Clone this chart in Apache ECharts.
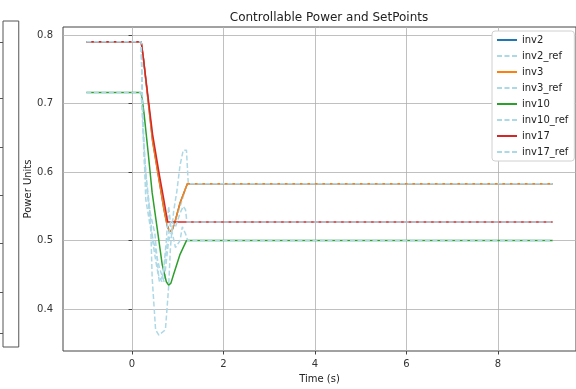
<!DOCTYPE html>
<html>
<head>
<meta charset="utf-8">
<script src="https://cdn.jsdelivr.net/npm/echarts@6/dist/echarts.min.js"></script>
<style>
  html, body { margin: 0; padding: 0; background: #fff; }
  #chart { width: 576px; height: 389px; }
</style>
</head>
<body>
<div id="chart"></div>
<script>
// time (s) and power values
const inv2T = [-1, 0.2, 0.25, 0.3, 0.45, 0.6, 0.7, 0.77, 0.82, 0.88, 0.95, 1.05, 1.21, 9.2];
const inv2V = [0.79, 0.79, 0.765, 0.735, 0.645, 0.585, 0.545, 0.522, 0.513, 0.516, 0.53, 0.555, 0.583, 0.583];
const inv3T = [-1, 0.2, 0.25, 0.3, 0.45, 0.6, 0.7, 0.77, 0.82, 0.88, 0.95, 1.05, 1.21, 9.2];
const inv3V = [0.79, 0.79, 0.765, 0.735, 0.645, 0.585, 0.545, 0.522, 0.513, 0.516, 0.53, 0.555, 0.583, 0.583];
const inv10T = [-1, 0.2, 0.26, 0.35, 0.44, 0.55, 0.66, 0.75, 0.8, 0.85, 0.91, 1.05, 1.19, 9.2];
const inv10V = [0.716, 0.716, 0.687, 0.63, 0.57, 0.518, 0.465, 0.44, 0.435, 0.438, 0.451, 0.48, 0.5, 0.5];
const inv17T = [-1, 0.2, 0.25, 0.3, 0.45, 0.6, 0.69, 0.78, 9.2];
const inv17V = [0.79, 0.79, 0.765, 0.737, 0.655, 0.595, 0.562, 0.527, 0.527];

const inv2RefT = [-1, 0.2, 0.23, 0.27, 0.3, 0.4, 0.5, 0.6, 0.7, 0.75, 0.8, 0.9, 1.0, 1.1, 1.2, 9.2];
const inv2RefV = [0.79, 0.79, 0.7, 0.62, 0.56, 0.52, 0.49, 0.46, 0.44, 0.47, 0.5, 0.52, 0.54, 0.56, 0.583, 0.583];
const inv3RefT = [-1, 0.2, 0.24, 0.28, 0.35, 0.41, 0.44, 0.515, 0.586, 0.73, 0.8, 0.84, 0.91, 0.98, 1.05, 1.12, 1.19, 1.23, 9.2];
const inv3RefV = [0.79, 0.79, 0.66, 0.6, 0.56, 0.518, 0.446, 0.37, 0.362, 0.37, 0.432, 0.49, 0.543, 0.572, 0.61, 0.632, 0.632, 0.583, 0.583];
const inv10RefT = [-1, 0.2, 0.24, 0.3, 0.38, 0.45, 0.52, 0.6, 0.68, 0.75, 0.8, 0.85, 0.95, 1.05, 1.1, 1.17, 1.22, 9.2];
const inv10RefV = [0.716, 0.716, 0.66, 0.6, 0.55, 0.5, 0.47, 0.44, 0.45, 0.5, 0.55, 0.52, 0.49, 0.5, 0.52, 0.51, 0.5, 0.5];
const inv17RefT = [-1, 0.2, 0.22, 0.26, 0.32, 0.4, 0.5, 0.58, 0.65, 0.72, 0.78, 0.85, 0.95, 1.05, 1.12, 1.17, 1.2, 9.2];
const inv17RefV = [0.79, 0.79, 0.72, 0.64, 0.58, 0.54, 0.51, 0.45, 0.44, 0.47, 0.5, 0.53, 0.52, 0.54, 0.55, 0.545, 0.527, 0.527];

const xTicks = [0, 2, 4, 6, 8];
const yTicks = [0.4, 0.5, 0.6, 0.7, 0.8];
// edge of the neighbouring panel on the left
const leftPanelTicks = [21, 77, 126, 174, 222, 271, 312];

const font = 'DejaVu Sans';

function pairs(t, v) {
  return t.map((x, i) => [x, v[i]]);
}

function solid(name, t, v, color) {
  return {
    name: name,
    type: 'line',
    data: pairs(t, v),
    symbol: 'none',
    lineStyle: { color: color, width: 1.5 },
    itemStyle: { color: color },
  };
}

function ref(name, t, v) {
  return {
    name: name,
    type: 'line',
    data: pairs(t, v),
    symbol: 'none',
    lineStyle: { color: '#add8e6', width: 1.5, type: [5, 2.5] },
    itemStyle: { color: '#add8e6' },
  };
}

let chart = echarts.init(document.getElementById('chart'));

let option = {
  animation: false,
  textStyle: { fontFamily: font },
  title: {
    text: 'Controllable Power and SetPoints',
    left: 324,
    top: 7,
    textAlign: 'center',
    textStyle: { fontFamily: font, fontSize: 12, fontWeight: 'normal', color: '#222' },
  },
  legend: {
    orient: 'vertical',
    left: 492,
    top: 31,
    padding: [4, 6, 4, 4],
    itemWidth: 20,
    itemHeight: 10,
    itemGap: 6,
    itemStyle: { opacity: 0, borderWidth: 0 }, // line only, no marker
    backgroundColor: '#fff',
    borderColor: '#d0d0d0',
    borderWidth: 1,
    borderRadius: 3,
    textStyle: { fontFamily: font, fontSize: 10, color: '#222', lineHeight: 10 },
    data: ['inv2', 'inv2_ref', 'inv3', 'inv3_ref', 'inv10', 'inv10_ref', 'inv17', 'inv17_ref'],
  },
  grid: [
    {
      left: 63,
      right: -9,
      top: 27,
      bottom: 35,
      show: true,
      borderColor: '#444',
      borderWidth: 1,
    },
    {
      left: -60,
      top: 21,
      width: 63,
      height: 326,
      show: true,
      borderColor: '#555',
      borderWidth: 1,
    },
  ],
  xAxis: [
    {
      type: 'value',
      min: -1.51,
      max: 9.71,
      name: 'Time (s)',
      nameLocation: 'middle',
      nameGap: 23,
      nameTextStyle: { fontFamily: font, fontSize: 10, color: '#222' },
      axisLine: { show: false },
      axisTick: { show: true, length: 3.5, lineStyle: { color: '#444' }, customValues: xTicks },
      axisLabel: { fontFamily: font, fontSize: 10, color: '#333', margin: 8, customValues: xTicks },
      splitLine: { show: true, lineStyle: { color: '#b0b0b0', width: 0.8 } },
    },
    { gridIndex: 1, type: 'value', show: false },
  ],
  yAxis: [
    {
      type: 'value',
      min: 0.339,
      max: 0.8116,
      name: 'Power Units',
      nameLocation: 'middle',
      nameGap: 30,
      nameMoveOverlap: false,
      nameTextStyle: { fontFamily: font, fontSize: 10, color: '#222' },
      axisLine: { show: false },
      axisTick: { show: true, length: 3.5, lineStyle: { color: '#444' }, customValues: yTicks },
      axisLabel: { fontFamily: font, fontSize: 10, color: '#333', margin: 10, customValues: yTicks },
      splitLine: { show: true, lineStyle: { color: '#b0b0b0', width: 0.8 } },
    },
    {
      gridIndex: 1,
      type: 'value',
      position: 'right',
      inverse: true,
      min: 0,
      max: 326,
      axisLine: { show: false },
      axisTick: { show: true, inside: true, length: 3, lineStyle: { color: '#555' }, customValues: leftPanelTicks },
      axisLabel: { show: false },
      splitLine: { show: false },
    },
  ],
  series: [
    solid('inv2', inv2T, inv2V, '#1f77b4'),
    ref('inv2_ref', inv2RefT, inv2RefV),
    solid('inv3', inv3T, inv3V, '#ff7f0e'),
    ref('inv3_ref', inv3RefT, inv3RefV),
    solid('inv10', inv10T, inv10V, '#2ca02c'),
    ref('inv10_ref', inv10RefT, inv10RefV),
    solid('inv17', inv17T, inv17V, '#d62728'),
    ref('inv17_ref', inv17RefT, inv17RefV),
  ],
};

chart.setOption(option);
</script>
</body>
</html>
